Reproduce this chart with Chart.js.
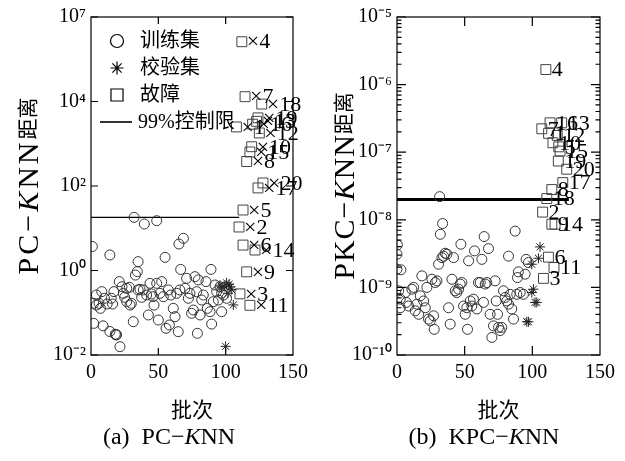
<!DOCTYPE html>
<html>
<head>
<meta charset="utf-8">
<script src="https://cdn.jsdelivr.net/npm/chart.js@4/dist/chart.umd.min.js"></script>
<style>
body{margin:0;background:#fff;width:625px;height:461px;position:relative;overflow:hidden}
canvas{position:absolute;top:0}
#ca{left:0}
#cb{left:320px}
.cap{position:absolute;top:423px;width:260px;text-align:center;white-space:pre;
  font:24px 'Liberation Serif','Noto Sans CJK SC',serif;color:#000}
</style>
</head>
<body>
<canvas id="ca" width="320" height="461"></canvas>
<canvas id="cb" width="305" height="461"></canvas>
<div class="cap" style="left:39px">(a)  PC−<i>K</i>NN</div>
<div class="cap" style="left:354px">(b)  KPC−<i>K</i>NN</div>
<script>
// ---- data (a) PC-KNN ----
const trainA = [[1,3.7],[2,0.056],[2,0.167],[4,0.152],[6,0.167],[8,0.316],[9,0.049],[10,0.22],[12,0.161],
  [14,2.33],[14,0.036],[17,0.316],[16,0.161],[18,0.031],[19,0.03],[21,0.545],[21.5,0.0157],[23,0.414],
  [24,0.288],[25,0.232],[26.5,0.378],[28.5,0.4],[29,0.152],[30,0.167],[31.4,0.0615],[32,18.1],[33,0.78],
  [34.4,0.94],[35,1.62],[36.4,0.358],[37.6,0.232],[38.9,0.346],[39.6,12.6],[41.3,0.263],[42.6,0.0886],
  [43.8,0.497],[45,0.278],[46.8,0.152],[48.8,15.1],[48.8,0.497],[50,0.0673],[51.2,0.288],[52.5,0.545],
  [53.7,0.24],[55,2.05],[55.7,0.0428],[57.4,0.346],[58.2,0.0513],[59.2,0.263],[61.1,0.127],[62.4,0.0807],
  [64.8,0.0356],[65.3,4.24],[66.6,1.06],[68.6,5.77],[69.8,0.378],[71,0.653],[72.3,0.22],[73.5,0.288],
  [74.7,0.097],[76,0.116],[77.2,0.715],[78.5,0.316],[79,0.0326],[81,0.0886],[82.2,0.2],[83.4,0.263],
  [85.4,0.545],[86.4,0.127],[88.4,0.106],[89.1,1.06],[89.6,0.054],[90.8,0.183],[92.1,0.454],[93.3,0.316],
  [94.6,0.2],[97,0.106],[98.3,0.263],[100.7,0.22],[4,0.263],[7,0.127],[15,0.22],[26.5,0.183],[35,0.346],
  [46,0.24],[63.6,0.288],[66,0.346],[79.7,0.6],[95.8,0.41],[97,0.29],[18.6,0.03]];
const validA = [[95.8,0.45],[100.7,0.51],[103.2,0.41],[104.5,0.35],[101.7,0.29],[105.7,0.153],[100,0.016],
  [97.3,0.39],[99,0.42],[102.5,0.47]];
const faultIdA = [4,7,18,19,13,16,1,12,10,15,8,20,17,5,2,6,14,9,3,11];
const faultA = [[112,2.6e5],[114.4,1.3e4],[126.8,8.7e3],[124,4.1e3],[123,3.4e3],[120,2.9e3],[108,2.5e3],
  [125,1.8e3],[119.3,850],[118,640],[115.6,380],[127.7,118],[124,90],[112.9,27],[109.9,10.7],[112.9,4.0],
  [121.8,3.05],[115.6,0.93],[110.6,0.28],[118,0.15]];
const limitA = 18;
const limitSpanA = [0, 110];

// ---- data (b) KPC-KNN ----
const trainB = [[0.3,4.25e-9],[0,3.1e-9],[0,1.86e-9],[2.9,1.82e-9],[1.2,8.9e-10],[2.4,6.7e-10],[2.4,5.0e-10],
  [6.1,8.4e-10],[6.9,6.0e-10],[8.6,5.3e-10],[11,9.4e-10],[12.3,1.0e-9],[13.5,4.5e-10],[14.7,5.65e-10],
  [16,4.0e-10],[17.2,7.5e-10],[18.4,1.48e-9],[19.7,6.3e-10],[20.9,5.0e-10],[22.1,1.0e-9],[23.3,3.4e-10],
  [24.6,3.2e-10],[25.8,1.32e-9],[27,3.8e-10],[27.5,2.4e-10],[28.3,1.18e-9],[29.5,1.25e-9],[30.7,2.2e-9],
  [31.5,2.2e-8],[32,6.1e-9],[33.2,2.76e-9],[33.7,8.8e-9],[34.4,2.9e-9],[35.6,3.2e-9],[36.9,3.1e-9],
  [38.1,5.0e-10],[39.3,2.86e-10],[40.6,1.32e-9],[41.8,2.76e-9],[43,8.9e-10],[44.2,8.4e-10],[45.5,9.4e-10],
  [46.7,1.12e-9],[47.2,4.35e-9],[47.9,1.18e-9],[49.2,5.3e-10],[50.4,4.0e-10],[51.6,5.0e-10],[52.1,2.4e-10],
  [52.9,2.47e-9],[54.1,6.3e-10],[55.3,5.3e-10],[56.5,6.7e-10],[57.3,3.47e-9],[59,4.8e-10],[60.2,1.18e-9],
  [61.5,1.18e-9],[62.7,2.6e-9],[63.9,6.0e-10],[64.4,5.65e-9],[65.2,1.12e-9],[66.4,1.18e-9],[67.6,3.75e-9],
  [68.8,4.0e-10],[70.1,1.82e-10],[71.3,2.7e-10],[72.5,1.25e-9],[73.3,6.3e-10],[74.3,4.0e-10],[75,2.56e-10],
  [76.2,2.3e-10],[77.4,2.56e-10],[78.7,8.9e-10],[79.9,7.1e-10],[81.1,6.3e-10],[82.4,2.9e-9],[82.4,5.65e-10],
  [83.6,7.9e-10],[84.8,4.8e-10],[86.1,3.4e-10],[87.3,6.8e-9],[88.5,7.9e-10],[89,1.4e-9],[89.7,1.7e-9],
  [91,8.4e-10],[93.4,7.9e-10],[94.7,1.57e-9],[95.4,2.6e-9],[97.1,2.33e-9]];
const validB = [[105.7,3.97e-9],[104.5,2.7e-9],[99.6,2.2e-9],[100.8,9.4e-10],[99.6,8.4e-10],[102,6.0e-10],
  [103.3,6.0e-10],[97.1,3.1e-10],[95.9,3.1e-10]];
const faultIdB = [4,16,13,7,1,12,10,5,15,19,20,17,8,18,2,9,14,6,11,3];
const faultB = [[110,1.67e-6],[113.1,2.72e-7],[121.7,2.72e-7],[107,2.22e-7],[112,1.9e-7],[118.4,1.77e-7],
  [115.2,1.38e-7],[119.5,1.2e-7],[120.5,1.04e-7],[119.2,7.4e-8],[125.4,5.6e-8],[122.5,3.55e-8],
  [114.4,2.8e-8],[110.7,2.06e-8],[107.6,1.3e-8],[114.4,8.6e-9],[116.8,8.6e-9],[111.9,2.8e-9],
  [116,1.97e-9],[108.2,1.36e-9]];
const limitB = 2.0e-8;
const limitSpanB = [0, 127];

// ---- axes / text ----
const xTicks = [0, 50, 100, 150];
const yTicksA = [1e-2, 1, 1e2, 1e4, 1e6];
const yLabelsA = ['10⁻²', '10⁰', '10²', '10⁴', '10⁷'];
const yTicksB = [1e-10, 1e-9, 1e-8, 1e-7, 1e-6, 1e-5];
const yLabelsB = ['10⁻¹⁰', '10⁻⁹', '10⁻⁸', '10⁻⁷', '10⁻⁶', '10⁻⁵'];
const seriesNames = ['训练集', '校验集', '故障', '99%控制限'];
// y titles as runs: n = roman, i = italic, c = chinese
const yTitleA = [['PC−', 'n'], ['K', 'i'], ['NN', 'n'], ['距离', 'c']];
const yTitleB = [['PKC−', 'n'], ['K', 'i'], ['NN', 'n'], ['距离', 'c']];

const FONT = "'Liberation Serif', 'Noto Sans CJK SC', serif";
Chart.defaults.font.family = FONT;
Chart.defaults.font.size = 20;
Chart.defaults.color = '#000';

const toPts = arr => arr.map(p => ({x: p[0], y: p[1]}));

// box, inward ticks and log minor ticks
const frameTicks = {
  id: 'frameTicks',
  afterDatasetsDraw(chart, args, opts) {
    const {ctx, chartArea: a, scales: {x, y}} = chart;
    ctx.save();
    ctx.strokeStyle = '#000';
    ctx.lineWidth = 1.2;
    ctx.strokeRect(a.left, a.top, a.right - a.left, a.bottom - a.top);
    ctx.beginPath();
    x.ticks.forEach(t => {
      const px = x.getPixelForValue(t.value);
      if (px < a.left + 2 || px > a.right - 2) return;
      ctx.moveTo(px, a.bottom); ctx.lineTo(px, a.bottom - opts.major);
      ctx.moveTo(px, a.top); ctx.lineTo(px, a.top + opts.major);
    });
    y.ticks.forEach(t => {
      const py = y.getPixelForValue(t.value);
      ctx.moveTo(a.left, py); ctx.lineTo(a.left + opts.major, py);
      ctx.moveTo(a.right, py); ctx.lineTo(a.right - opts.major, py);
    });
    if (opts.minor) {
      for (let e = Math.log10(y.min); e < Math.log10(y.max); e++) {
        for (let m = 2; m <= 9; m++) {
          const py = y.getPixelForValue(m * Math.pow(10, e));
          ctx.moveTo(a.left, py); ctx.lineTo(a.left + opts.minor, py);
          ctx.moveTo(a.right, py); ctx.lineTo(a.right - opts.minor, py);
        }
      }
    }
    ctx.stroke();
    ctx.restore();
  }
};

// number next to every fault square
const faultLabels = {
  id: 'faultLabels',
  afterDatasetsDraw(chart, args, opts) {
    const {ctx} = chart;
    const meta = chart.getDatasetMeta(2);
    ctx.save();
    ctx.fillStyle = '#000';
    ctx.font = '22px ' + FONT;
    ctx.textAlign = 'left';
    ctx.textBaseline = 'middle';
    meta.data.forEach((pt, i) => {
      ctx.fillText(opts.prefix + opts.ids[i], pt.x + opts.dx, pt.y + 1);
    });
    ctx.restore();
  }
};

// legend stacked inside the plot, top-left
const boxLegend = {
  id: 'boxLegend',
  afterDraw(chart, args, opts) {
    if (!opts.show) return;
    const {ctx} = chart;
    ctx.save();
    ctx.font = '20px ' + FONT;
    ctx.textBaseline = 'middle';
    ctx.fillStyle = '#000';
    chart.data.datasets.forEach((ds, i) => {
      const y = opts.top + i * opts.step;
      ctx.strokeStyle = '#000';
      if (ds.showLine) {
        ctx.lineWidth = 1.6;
        ctx.beginPath();
        ctx.moveTo(opts.left - 17, y); ctx.lineTo(opts.left + 15, y);
        ctx.stroke();
      } else {
        ctx.lineWidth = 1.2;
        ctx.fillStyle = 'rgba(0,0,0,0)';
        Chart.helpers.drawPoint(ctx, {pointStyle: ds.pointStyle, radius: ds.pointStyle === 'rect' ? 8.5 : 6.5,
          borderWidth: 1.2, rotation: 0}, opts.left, y);
        ctx.fillStyle = '#000';
      }
      ctx.fillText(ds.label, opts.left + (ds.showLine ? 21 : 23), y + 1);
    });
    ctx.restore();
  }
};

// rotated y title with an italic K
const yTitle = {
  id: 'yTitle',
  afterDraw(chart, args, opts) {
    const {ctx, chartArea: a} = chart;
    const fonts = {n: '30px ' + FONT, i: 'italic 30px ' + FONT, c: '21px ' + FONT};
    ctx.save();
    ctx.fillStyle = '#000';
    ctx.textBaseline = 'middle';
    let total = 0;
    const runs = opts.runs.map(([text, k]) => {
      ctx.font = fonts[k];
      ctx.letterSpacing = (k === 'c' ? 0 : opts.spacing) + 'px';
      const w = ctx.measureText(text).width;
      total += w;
      return {text, k, w};
    });
    ctx.translate(opts.x, (a.top + a.bottom) / 2);
    ctx.rotate(-Math.PI / 2);
    let pos = -total / 2;
    runs.forEach(r => {
      ctx.font = fonts[r.k];
      ctx.letterSpacing = (r.k === 'c' ? 0 : opts.spacing) + 'px';
      ctx.fillText(r.text, pos, r.k === 'c' ? 0 : 1);
      pos += r.w;
    });
    ctx.restore();
  }
};

function makePanel(id, p) {
  return new Chart(document.getElementById(id), {
    type: 'scatter',
    data: {
      datasets: [
        {label: seriesNames[0], data: toPts(p.train), pointStyle: 'circle', pointRadius: 5,
          borderColor: '#333', backgroundColor: 'rgba(0,0,0,0)', borderWidth: 1},
        {label: seriesNames[1], data: toPts(p.valid), pointStyle: 'star', pointRadius: 5,
          borderColor: '#222', backgroundColor: 'rgba(0,0,0,0)', borderWidth: 1},
        {label: seriesNames[2], data: toPts(p.fault), pointStyle: 'rect', pointRadius: 7,
          borderColor: '#444', backgroundColor: 'rgba(0,0,0,0)', borderWidth: 1},
        {label: seriesNames[3], data: p.span.map(v => ({x: v, y: p.limit})), showLine: true,
          pointRadius: 0, borderColor: '#000', borderWidth: p.limitWidth}
      ]
    },
    options: {
      responsive: false,
      animation: false,
      layout: {padding: p.padding},
      scales: {
        x: {
          type: 'linear', min: 0, max: 150,
          afterBuildTicks: s => { s.ticks = xTicks.map(v => ({value: v})); },
          grid: {display: false, drawTicks: false}, border: {display: false},
          ticks: {padding: 6},
          title: {display: true, text: '批次', font: {size: 21}, padding: {top: 0, bottom: 0}},
          afterFit: s => { s.height = 69; }
        },
        y: {
          type: 'logarithmic', min: p.yTicks[0], max: p.yTicks[p.yTicks.length - 1],
          afterBuildTicks: s => { s.ticks = p.yTicks.map(v => ({value: v})); },
          grid: {display: false, drawTicks: false}, border: {display: false},
          ticks: {padding: 5, autoSkip: false, callback: (v, i) => p.yLabels[i]},
          afterFit: s => { s.width = p.axisWidth; }
        }
      },
      plugins: {
        legend: {display: false},
        tooltip: {enabled: false},
        frameTicks: {major: p.major, minor: p.minor},
        faultLabels: {ids: p.ids, prefix: p.prefix, dx: p.dx},
        boxLegend: {show: p.legend, left: 117, top: 41, step: 27},
        yTitle: {runs: p.yTitle, x: p.titleX, spacing: p.spacing}
      }
    },
    plugins: [frameTicks, faultLabels, boxLegend, yTitle]
  });
}

makePanel('ca', {
  train: trainA, valid: validA, fault: faultA, ids: faultIdA, limit: limitA, span: limitSpanA,
  yTicks: yTicksA, yLabels: yLabelsA, yTitle: yTitleA, titleX: 29, spacing: 3, axisWidth: 91,
  padding: {top: 17, right: 27, bottom: 37, left: 0}, limitWidth: 1.2, major: 7, minor: 0,
  prefix: '×', dx: 5, legend: true
});

makePanel('cb', {
  train: trainB, valid: validB, fault: faultB, ids: faultIdB, limit: limitB, span: limitSpanB,
  yTicks: yTicksB, yLabels: yLabelsB, yTitle: yTitleB, titleX: 25, spacing: 1, axisWidth: 77,
  padding: {top: 17, right: 25, bottom: 37, left: 0}, limitWidth: 3, major: 9, minor: 4.5,
  prefix: '', dx: 6, legend: false
});
</script>
</body>
</html>
